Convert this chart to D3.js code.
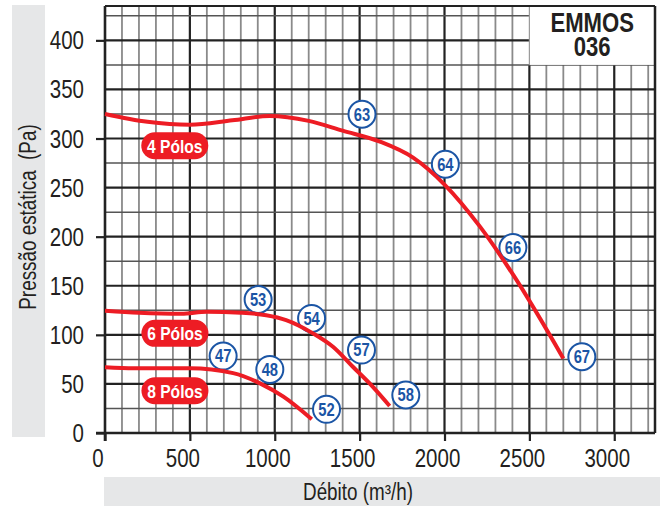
<!DOCTYPE html>
<html><head><meta charset="utf-8">
<script src="https://cdn.jsdelivr.net/npm/d3@7"></script>
<style>body{margin:0;background:#fff}svg{display:block}</style>
</head><body>
<svg id="c" width="662" height="506"></svg>
<script>
// ---------- data ----------
const xTickValues = [0, 500, 1000, 1500, 2000, 2500, 3000];
const yLabelValues = [0, 50, 100, 150, 200, 250, 300, 350, 400];
const yTickValues = [0, 100, 200, 300, 400];

const flow4 = [0, 250, 500, 750, 970, 1200, 1400, 1620, 1815, 2003, 2209, 2405, 2700];
const pres4 = [325, 317, 314, 318.5, 323, 318, 308, 296.8, 280.5, 252.6, 210.2, 161, 76];

const flow6 = [0, 200, 450, 600, 800, 950, 1067, 1225, 1343, 1460, 1578, 1677];
const pres6 = [124.5, 122.5, 121.5, 123.5, 122.5, 120, 115, 101.5, 87.8, 67.5, 47, 27.5];

const flow8 = [0, 170, 500, 755, 913, 1051, 1218];
const pres8 = [67, 66, 66, 61, 50.6, 37, 14];

const markerText = ["63", "64", "66", "67", "53", "54", "57", "58", "47", "48", "52"];
const markerFlow = [1514, 2005, 2403, 2809, 902, 1217, 1511, 1772, 696, 971, 1305];
const markerPres = [324.7, 273.8, 189, 77.7, 136, 116.7, 84.5, 38.7, 78.4, 64.8, 24.1];

const poleText = ["4 Pólos", "6 Pólos", "8 Pólos"];
const poleFlow = [411, 412, 412];
const polePres = [292.6, 101.5, 43];

const titleLines = ["EMMOS", "036"];
const xTitle = "Débito (m³/h)";
const yTitle = "Pressão estática\u00a0\u00a0(Pa)";

// ---------- font check ----------
const cv = document.createElement("canvas").getContext("2d");
cv.font = '40px "Liberation Sans Narrow", monospace';
const wN = cv.measureText("0000abcd").width;
cv.font = '40px monospace';
const wM = cv.measureText("0000abcd").width;
const narrow = Math.abs(wN - wM) > 0.5;
const FONT = narrow ? '"Liberation Sans Narrow", "Liberation Sans", sans-serif' : '"Liberation Sans", Arial, sans-serif';
const SX = narrow ? 1 : 0.82;

const svg = d3.select("#c");
const x = d3.scaleLinear().domain([0, 3240]).range([105, 655]);
const y = d3.scaleLinear().domain([0, 435]).range([433, 6]);

const RED = "#ed1c24", BLUE = "#1b55a5", INK = "#231f20", BAND = "#e6e7e8";

function txt(parent, px, py, s, o) {
  const g = parent.append("g").attr("transform", `translate(${px},${py})${o.rot ? " rotate(" + o.rot + ")" : ""} scale(${SX},1)`);
  const t = g.append("text")
    .attr("x", 0).attr("y", 0)
    .attr("text-anchor", o.anchor || "middle")
    .attr("font-family", FONT)
    .attr("font-size", o.size)
    .attr("font-weight", o.bold ? "bold" : "normal")
    .attr("fill", o.fill || INK)
    .style("white-space", "pre");
  if (Array.isArray(s)) {
    s.forEach((line, i) => t.append("tspan").attr("x", 0).attr("dy", i === 0 ? 0 : o.lineH).text(line));
  } else t.text(s);
  return g;
}

// bands
svg.append("rect").attr("x", 12).attr("y", 5).attr("width", 33).attr("height", 432).attr("fill", BAND);
svg.append("rect").attr("x", 104).attr("y", 477).attr("width", 556).attr("height", 29).attr("fill", BAND);

// grid
const grid = svg.append("g");
const boxX = x(2500), boxY = y(375);
d3.range(100, 3240, 100).forEach(v => {
  const major = v % 500 === 0;
  grid.append("line")
    .attr("x1", x(v)).attr("x2", x(v))
    .attr("y1", v >= 2500 ? boxY : y.range()[1]).attr("y2", y(0))
    .attr("stroke", major ? "#222" : "#8a8a8a")
    .attr("stroke-width", major ? 2.2 : 1.8);
});
d3.range(25, 435, 25).forEach(v => {
  const major = v % 50 === 0;
  grid.append("line")
    .attr("x1", x(0)).attr("x2", v > 375 ? boxX : x.range()[1])
    .attr("y1", y(v)).attr("y2", y(v))
    .attr("stroke", major ? "#222" : "#555")
    .attr("stroke-width", major ? 2.2 : 1.5);
});

// title box
svg.append("rect").attr("x", boxX).attr("y", y.range()[1]).attr("width", x.range()[1] - boxX).attr("height", boxY - y.range()[1]).attr("fill", "#fff");
svg.append("line").attr("x1", boxX).attr("x2", boxX).attr("y1", y.range()[1]).attr("y2", boxY).attr("stroke", "#999").attr("stroke-width", 1.2);
txt(svg, (boxX + x.range()[1]) / 2, 31.5, titleLines, {size: 27, bold: true, lineH: 25});

// frame
svg.append("line").attr("x1", x(0)).attr("x2", x.range()[1]).attr("y1", y.range()[1]).attr("y2", y.range()[1]).attr("stroke", "#222").attr("stroke-width", 2);
svg.append("line").attr("x1", x.range()[1]).attr("x2", x.range()[1]).attr("y1", y.range()[1]).attr("y2", y(0)).attr("stroke", "#222").attr("stroke-width", 2.5);

// axes
const xAxis = d3.axisBottom(x).tickValues(xTickValues).tickSize(8).tickFormat("");
const gx = svg.append("g").attr("transform", `translate(0,${y(0)})`).call(xAxis);
gx.select(".domain").remove();
gx.selectAll(".tick line").attr("stroke", "#222").attr("stroke-width", 2.2);
svg.append("line").attr("x1", 96).attr("x2", x.range()[1]).attr("y1", y(0)).attr("y2", y(0)).attr("stroke", "#222").attr("stroke-width", 2.6);

const yAxis = d3.axisLeft(y).tickValues(yTickValues).tickSize(9).tickFormat("");
const gy = svg.append("g").attr("transform", `translate(${x(0)},0)`).call(yAxis);
gy.select(".domain").remove();
gy.selectAll(".tick line").attr("stroke", "#222").attr("stroke-width", 2.2);
svg.append("line").attr("x1", x(0)).attr("x2", x(0)).attr("y1", y.range()[1]).attr("y2", y(0) + 8).attr("stroke", "#222").attr("stroke-width", 2.6);

xTickValues.forEach(v => txt(svg, x(v) - 7, 467, String(v), {size: 25}));
yLabelValues.forEach(v => txt(svg, 84, y(v) + 9, String(v), {size: 25, anchor: "end"}));

txt(svg, 358, 500, xTitle, {size: 23});
txt(svg, 35.5, 217, yTitle, {size: 23, rot: -90});

// markers
const mk = svg.append("g");
markerText.forEach((t, i) => {
  mk.append("circle").attr("cx", x(markerFlow[i])).attr("cy", y(markerPres[i])).attr("r", 13.5)
    .attr("fill", "#fff").attr("stroke", BLUE).attr("stroke-width", 2);
  txt(mk, x(markerFlow[i]), y(markerPres[i]) + 6.4, t, {size: 18, bold: true, fill: BLUE});
});

// curves
const line = d3.line().x(d => x(d[0])).y(d => y(d[1])).curve(d3.curveMonotoneX);
[[flow4, pres4], [flow6, pres6], [flow8, pres8]].forEach(([f, p]) => {
  svg.append("path").attr("d", line(f.map((v, i) => [v, p[i]])))
    .attr("fill", "none").attr("stroke", RED).attr("stroke-width", 4);
});

// pole labels
poleText.forEach((t, i) => {
  const cx = x(poleFlow[i]), cy = y(polePres[i]);
  svg.append("rect").attr("x", cx - 33.5).attr("y", cy - 13.5).attr("width", 67).attr("height", 27)
    .attr("rx", 13.5).attr("fill", RED);
  txt(svg, cx, cy + 6.8, t, {size: 19, bold: true, fill: "#fff"});
});
</script>
</body></html>
